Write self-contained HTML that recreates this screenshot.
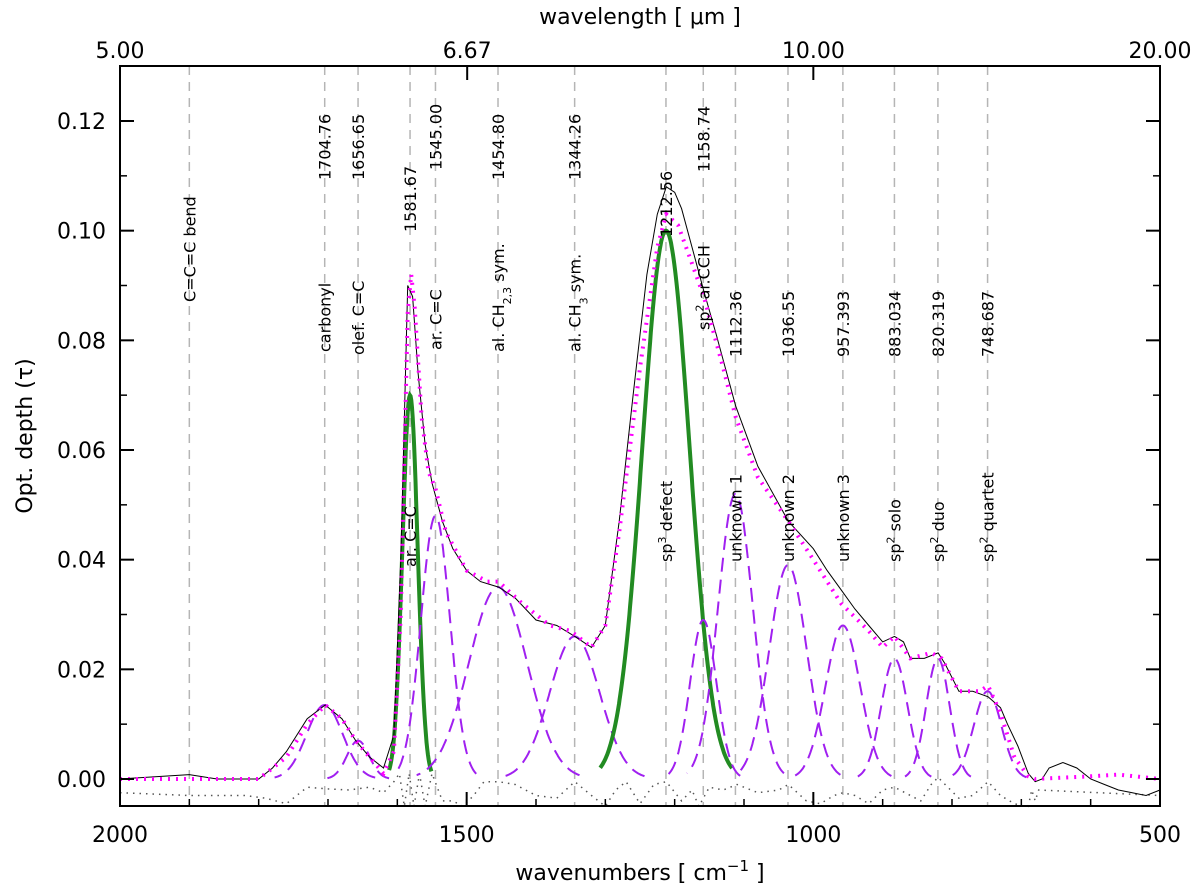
<!DOCTYPE html>
<html><head><meta charset="utf-8"><style>
body{margin:0;background:#fff}
svg{display:block;font-family:"DejaVu Sans","Liberation Sans",sans-serif}
</style></head><body>
<svg id="c" width="1200" height="892"></svg>
<script>
const NS="http://www.w3.org/2000/svg";
const svg=document.getElementById('c');
// data
const bandCenters=[1704.76,1656.65,1581.67,1545.00,1454.80,1344.26,1212.56,1158.74,1112.36,1036.55,957.393,883.034,820.319,748.687];
const bandAmps=[0.0135,0.007,0.070,0.048,0.035,0.026,0.100,0.029,0.052,0.039,0.028,0.022,0.022,0.016];
const bandSigmas=[26,16,11,21,42,36,34,19,25,27,25,19,17,20];
const bandGreen=[false,false,true,false,false,false,true,false,false,false,false,false,false,false];
const bandNumLabels=["1704.76","1656.65","1581.67","1545.00","1454.80","1344.26","1212.56","1158.74","1112.36","1036.55","957.393","883.034","820.319","748.687"];
const bandNumBottom=[180,180,232,170,180,180,237,172,357,357,357,357,357,357];
const bandNames=["carbonyl","olef. C=C","ar. C=C","ar. C=C","al. CH<tspan baseline-shift='sub' font-size='11'>2,3</tspan> sym.","al. CH<tspan baseline-shift='sub' font-size='11'>3</tspan> sym.","sp<tspan baseline-shift='super' font-size='11'>3</tspan> defect","sp<tspan baseline-shift='super' font-size='11'>2</tspan> ar.CCH","unknown 1","unknown 2","unknown 3","sp<tspan baseline-shift='super' font-size='11'>2</tspan> solo","sp<tspan baseline-shift='super' font-size='11'>2</tspan> duo","sp<tspan baseline-shift='super' font-size='11'>2</tspan> quartet"];
const bandNameBottom=[352,355,567,350,352,352,562,330,562,562,562,562,562,562];
const obsX=[2000,1900,1860,1800,1780,1760,1730,1704,1680,1660,1640,1620,1605,1595,1585,1578,1570,1560,1550,1535,1520,1500,1480,1454,1430,1400,1370,1344,1320,1300,1280,1260,1240,1225,1212,1200,1190,1175,1158,1140,1112,1080,1036,1000,980,957,940,920,900,883,870,860,840,820,810,790,770,748,730,720,705,690,680,670,660,640,620,600,580,560,540,520,500];
const obsY=[0,0.0008,0,0,0.002,0.005,0.011,0.0135,0.011,0.007,0.004,0.002,0.008,0.04,0.09,0.088,0.074,0.061,0.054,0.047,0.042,0.038,0.036,0.035,0.033,0.029,0.028,0.026,0.024,0.028,0.047,0.07,0.092,0.103,0.108,0.107,0.104,0.097,0.089,0.081,0.068,0.057,0.047,0.042,0.038,0.034,0.031,0.028,0.025,0.026,0.025,0.022,0.022,0.023,0.021,0.016,0.016,0.015,0.013,0.01,0.006,0.001,-0.0005,0,0.002,0.003,0.002,0,-0.001,-0.002,-0.0025,-0.003,-0.002];
const fitX=[2000,1800,1760,1730,1704,1680,1660,1640,1620,1605,1595,1585,1580,1575,1565,1555,1545,1530,1500,1470,1454,1420,1380,1350,1320,1300,1280,1250,1225,1212,1195,1175,1158,1130,1112,1080,1036,1000,960,920,900,883,860,830,815,790,760,748,730,710,690,680,600,560,500];
const fitY=[0,0,0.004,0.01,0.0135,0.011,0.007,0.004,0.001,0.005,0.03,0.085,0.092,0.086,0.066,0.056,0.053,0.045,0.038,0.036,0.036,0.032,0.028,0.027,0.024,0.028,0.045,0.075,0.097,0.103,0.101,0.094,0.088,0.075,0.066,0.055,0.047,0.040,0.032,0.027,0.024,0.026,0.022,0.023,0.022,0.016,0.016,0.017,0.012,0.004,0.0005,0,0.0005,0.0008,0];
const resX=[2000,1900,1820,1790,1760,1730,1700,1670,1640,1620,1605,1597,1590,1583,1576,1568,1560,1550,1535,1520,1505,1490,1475,1454,1430,1400,1370,1344,1320,1300,1285,1270,1250,1230,1212,1190,1175,1165,1150,1130,1110,1080,1050,1036,1010,990,970,957,940,920,900,883,860,845,830,820,810,790,770,748,730,710,695,690,685,680,675,500];
const resY=[-0.0025,-0.003,-0.003,-0.0035,-0.0045,-0.0015,-0.0018,-0.002,-0.0015,-0.0025,-0.0005,0.001,-0.005,0.001,-0.005,0.001,-0.005,0.001,-0.004,-0.004,-0.005,-0.003,-0.0005,-0.0005,-0.001,-0.003,-0.0035,-0.0005,-0.003,-0.005,-0.002,-0.0005,-0.0045,-0.001,-0.0005,-0.004,-0.002,-0.005,-0.0015,-0.002,-0.001,-0.0025,-0.002,-0.001,-0.004,-0.0045,-0.003,-0.0025,-0.003,-0.0045,-0.002,-0.0015,-0.003,-0.004,-0.001,0.0003,-0.001,-0.0035,-0.003,-0.0005,-0.003,-0.0045,-0.005,-0.005,-0.002,-0.004,-0.002,-0.003];
const xTicks=[2000,1500,1000,500];
const yTicks=[0,0.02,0.04,0.06,0.08,0.1,0.12];
const topTicks=[5.00,6.67,10.00,20.00];
// axes
const L=120,R=1160,T=66,B=806;
const X=v=>L+(2000-v)/1500*(R-L);
const Y=v=>779-v/0.12*(779-121);
function el(t,a,p){const e=document.createElementNS(NS,t);for(const k in a)e.setAttribute(k,a[k]);(p||svg).appendChild(e);return e;}
[1900].concat(bandCenters).forEach(c=>{
 const l=el('line',{x1:X(c),x2:X(c),y1:T,y2:B,stroke:'#b5b5b5','stroke-width':1.5,'stroke-dasharray':'9,7'});
 
 
});
function path(xs,ys,attrs,name){
 let d='';xs.forEach((x,i)=>{d+=(i?'L':'M')+X(x).toFixed(1)+','+Y(ys[i]).toFixed(1);});
 const p=el('path',Object.assign({d,fill:'none'},attrs));
 
 
 return p;
}
const g=(x,i)=>bandAmps[i]*Math.exp(-0.5*Math.pow((x-bandCenters[i])/bandSigmas[i],2));
path(resX,resY,{stroke:'#555','stroke-width':1.5,'stroke-dasharray':'1.5,5'},'residual-line');
bandCenters.forEach((c,i)=>{
 const xs=[],ys=[];const s=bandSigmas[i];
 for(let x=c-2.8*s;x<=c+2.8*s;x+=1){xs.push(x);ys.push(g(x,i));}
 if(bandGreen[i]) path(xs,ys,{stroke:'#228b22','stroke-width':4},'green-component-'+i);
 else path(xs,ys,{stroke:'#a020f0','stroke-width':2,'stroke-dasharray':'14,8'},'component-'+i);
});
path(obsX,obsY,{stroke:'#000','stroke-width':1},'observed-spectrum');
path(fitX,fitY,{stroke:'#ff00ff','stroke-width':4,'stroke-dasharray':'2,6'},'total-fit');
function vtext(x,yb,html,name){
 const t=el('text',{transform:`translate(${x+6},${yb}) rotate(-90)`,'font-size':16,fill:'#000'});
 t.innerHTML=html;
 
 
}
vtext(X(1900),302,'C=C=C bend','label-ccc-bend');
bandCenters.forEach((c,i)=>{vtext(X(c),bandNumBottom[i],bandNumLabels[i],'band-number-label');vtext(X(c),bandNameBottom[i],bandNames[i],'band-name-label');});
const f=el('rect',{x:L,y:T,width:R-L,height:B-T,fill:'none',stroke:'#000','stroke-width':2});

xTicks.forEach(v=>{
 el('line',{x1:X(v),x2:X(v),y1:B,y2:B-14,stroke:'#000','stroke-width':2});
 const t=el('text',{x:X(v),y:B+36,'text-anchor':'middle','font-size':22});t.textContent=v;
 
});
for(let v=2000;v>=500;v-=100){el('line',{x1:X(v),x2:X(v),y1:B,y2:B-7,stroke:'#000','stroke-width':1.5});}
topTicks.forEach(w=>{
 const x=X(1e4/w);
 el('line',{x1:x,x2:x,y1:T,y2:T+14,stroke:'#000','stroke-width':2});
 const t=el('text',{x:x,y:T-8,'text-anchor':'middle','font-size':22});t.textContent=w.toFixed(2);
 
});
yTicks.forEach(v=>{
 el('line',{x1:L,x2:L+14,y1:Y(v),y2:Y(v),stroke:'#000','stroke-width':2});
 el('line',{x1:R,x2:R-14,y1:Y(v),y2:Y(v),stroke:'#000','stroke-width':2});
 const t=el('text',{x:L-14,y:Y(v)+8,'text-anchor':'end','font-size':22});t.textContent=v.toFixed(2);
 
});
for(let v=0.01;v<0.13;v+=0.02){el('line',{x1:L,x2:L+7,y1:Y(v),y2:Y(v),stroke:'#000','stroke-width':1.5});el('line',{x1:R,x2:R-7,y1:Y(v),y2:Y(v),stroke:'#000','stroke-width':1.5});}
let t=el('text',{x:640,y:880,'text-anchor':'middle','font-size':22});t.innerHTML="wavenumbers [ cm<tspan baseline-shift='super' font-size='15'>−1</tspan> ]";

t=el('text',{x:640,y:24,'text-anchor':'middle','font-size':22});t.textContent="wavelength [ μm ]";

t=el('text',{transform:'translate(32,436) rotate(-90)','text-anchor':'middle','font-size':22});t.textContent="Opt. depth (τ)";

</script>
</body></html>
